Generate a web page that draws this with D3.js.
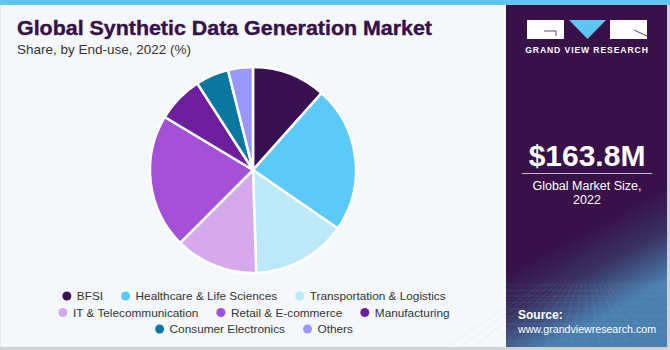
<!DOCTYPE html>
<html>
<head>
<meta charset="utf-8">
<script src="https://cdn.jsdelivr.net/npm/d3@7"></script>
<style>
html,body{margin:0;padding:0;background:#fff;}
svg{display:block;}
</style>
</head>
<body>
<div id="chart"></div>
<script>
const categories = ["BFSI","Healthcare & Life Sciences","Transportation & Logistics","IT & Telecommunication","Retail & E-commerce","Manufacturing","Consumer Electronics","Others"];
const shares = [11.6, 23.0, 14.9, 13.0, 21.1, 7.3, 5.2, 3.9];
const colors = ["#3a1150","#5ccaf6","#bde8f8","#d6a8ec","#a34fd6","#6e209c","#0a789e","#9a97fb"];
const legendRows = [[0,1,2],[3,4,5],[6,7]];
const marketSize = "$163.8M";
const marketLabel = ["Global Market Size,","2022"];

const W = 670, H = 350;
const FF = "Liberation Sans, Arial, sans-serif";
const svg = d3.select("#chart").append("svg").attr("width", W).attr("height", H);
const defs = svg.append("defs");

// backgrounds
svg.append("rect").attr("x",0).attr("y",0).attr("width",W).attr("height",H).attr("fill","#f4f8fb");
svg.append("rect").attr("x",0).attr("y",0).attr("width",1).attr("height",H).attr("fill","#e3e8ec");
svg.append("rect").attr("x",0).attr("y",347).attr("width",W).attr("height",3).attr("fill","#d0d3d6");
svg.append("rect").attr("x",667).attr("y",0).attr("width",3).attr("height",H).attr("fill","#d0d3d6");

// right panel
const grad = defs.append("linearGradient").attr("id","pg").attr("x1",0).attr("y1",0).attr("x2",0.25).attr("y2",1);
grad.append("stop").attr("offset","0%").attr("stop-color","#371148");
grad.append("stop").attr("offset","74%").attr("stop-color","#371148");
grad.append("stop").attr("offset","86%").attr("stop-color","#39325f");
grad.append("stop").attr("offset","100%").attr("stop-color","#4a7fb0");
svg.append("rect").attr("x",506).attr("y",0).attr("width",161).attr("height",347).attr("fill","url(#pg)");
// faint grid in bottom of panel
const grid = svg.append("g").attr("stroke","#8fb5d8").attr("stroke-opacity",0.22).attr("stroke-width",0.6);
for (let i=0;i<14;i++){
  const y = 285 + i*5 + i*i*0.25;
  if (y<347) grid.append("line").attr("x1",506).attr("x2",667).attr("y1",y).attr("y2",y);
}
for (let i=-10;i<=20;i++){
  grid.append("line").attr("x1",586+i*4).attr("y1",282).attr("x2",586+i*14).attr("y2",347);
}

// top bar
svg.append("rect").attr("x",0).attr("y",0).attr("width",W).attr("height",5).attr("fill","#5ec6f0");

// logo
const logo = svg.append("g");
logo.append("rect").attr("x",527).attr("y",20).attr("width",37).attr("height",19).attr("fill","#fff");
logo.append("path").attr("d","M544 31 H556 V36").attr("fill","none").attr("stroke","#371148").attr("stroke-width",0.8);
logo.append("path").attr("d","M569 20 H606 L587.5 39 Z").attr("fill","#5ec6f0");
logo.append("rect").attr("x",610).attr("y",20).attr("width",37).attr("height",19).attr("fill","#fff");
logo.append("path").attr("d","M634 30 L647 36").attr("fill","none").attr("stroke","#371148").attr("stroke-width",0.8);
svg.append("text").attr("x",587).attr("y",53).attr("text-anchor","middle")
  .attr("font-family",FF).attr("font-weight","bold").attr("font-size",8.6)
  .attr("letter-spacing",0.9).attr("fill","#fff").text("GRAND VIEW RESEARCH");

// market size
svg.append("text").attr("x",587).attr("y",166).attr("text-anchor","middle")
  .attr("font-family",FF).attr("font-weight","bold").attr("font-size",30)
  .attr("fill","#fff").text(marketSize);
svg.append("line").attr("x1",522).attr("x2",652).attr("y1",173.5).attr("y2",173.5).attr("stroke","#c9bfd2").attr("stroke-width",1);
marketLabel.forEach((t,i)=>{
  svg.append("text").attr("x",587).attr("y",190+i*13.5).attr("text-anchor","middle")
    .attr("font-family",FF).attr("font-size",12.5).attr("fill","#fff").text(t);
});
svg.append("text").attr("x",518).attr("y",319).attr("font-family",FF)
  .attr("font-weight","bold").attr("font-size",12).attr("fill","#fff").text("Source:");
svg.append("text").attr("x",518).attr("y",333).attr("font-family",FF)
  .attr("font-size",11.5).attr("textLength",138).attr("lengthAdjust","spacingAndGlyphs")
  .attr("fill","#fff").text("www.grandviewresearch.com");

// titles
svg.append("text").attr("x",17).attr("y",35).attr("font-family",FF)
  .attr("font-weight","bold").attr("font-size",20.5).attr("textLength",415).attr("lengthAdjust","spacingAndGlyphs")
  .attr("fill","#371148").attr("stroke","#371148").attr("stroke-width",0.4).text("Global Synthetic Data Generation Market");
svg.append("text").attr("x",17).attr("y",54).attr("font-family",FF)
  .attr("font-size",13.5).attr("fill","#333").text("Share, by End-use, 2022 (%)");

// pie
const cx = 253, cy = 170, R = 103;
const data = categories.map((c,i)=>({cat:c, value:shares[i], color:colors[i]}));
const pie = d3.pie().sort(null).value(d=>d.value);
const arc = d3.arc().innerRadius(0).outerRadius(R);
svg.append("g").attr("transform",`translate(${cx},${cy})`)
  .selectAll("path").data(pie(data)).join("path")
  .attr("d",arc).attr("fill",d=>d.data.color).attr("stroke","#fff").attr("stroke-width",2.5).attr("stroke-linejoin","round");

// legend
const lg = svg.append("g").attr("font-family",FF).attr("font-size",11.8).attr("fill","#333");
const rowY = [296, 312.5, 329];
const gap = 18, dotR = 4.5, dotGap = 5.5;
legendRows.forEach((row, ri)=>{
  const items = row.map(i=>{
    const t = lg.append("text").attr("y",rowY[ri]).attr("dy","0.35em").text(categories[i]);
    return {i, t, w: t.node().getComputedTextLength()};
  });
  const total = d3.sum(items, d=>dotR*2+dotGap+d.w) + gap*(items.length-1);
  let x = 254 - total/2;
  items.forEach(d=>{
    lg.append("circle").attr("cx",x+dotR).attr("cy",rowY[ri]).attr("r",dotR).attr("fill",colors[d.i]);
    d.t.attr("x",x+dotR*2+dotGap);
    x += dotR*2+dotGap+d.w+gap;
  });
});
</script>
</body>
</html>
